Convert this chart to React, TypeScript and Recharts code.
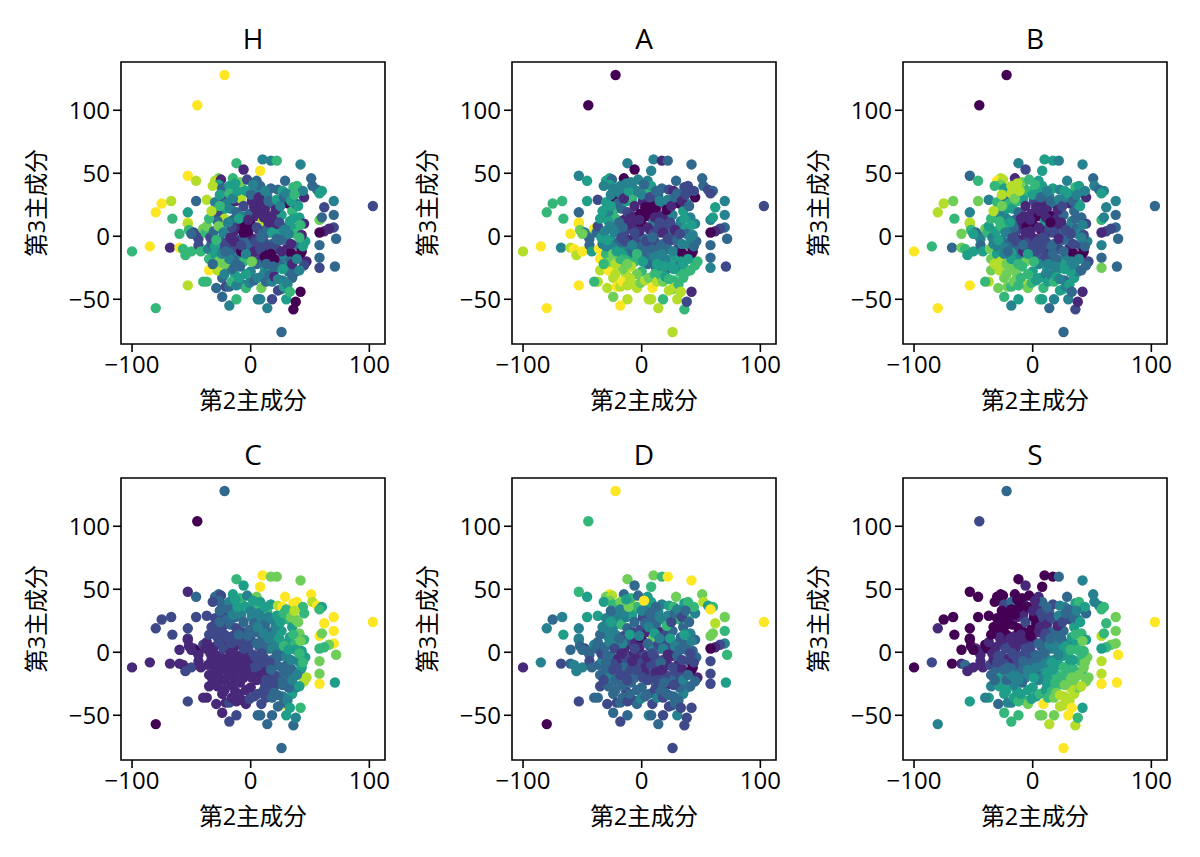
import { ScatterChart, Scatter, XAxis, YAxis, ReferenceArea } from "recharts";

// second and third principal component scores, one row per 20 points
const xs = [
  -100, -85, -80, -80, -75, -67, -66, -68, -60, -57, -55, -50, -53, -53, -46, -45, -22, 103, 26, -53,
  72, 70, 66, 62, 58, 70, 70, 62, 58, 60, 58, 58, 58, 71, 51, 52, 56, 60, 58, 45,
  10, 17, 22, 42, -12, -15, -6, 8, 5, -27, -30, -25, -27, -32, -46, -37, -24, -22, -18, -8,
  -37, -29, -24, -18, -12, 6, 8, 18, 14, 30, 36, 38, 42, 26, 35, -40, -35, -24, -21, -18,
  -53, -53, -52, -48, -46, -44, -44, -42, -60, -50, -40, -38, -37, -36, -35, -33, -30, -28, -27, -26,
  -25, -24, -28, -30, -26, -22, -20, -18, -17, -15, -14, -13, -12, -10, -9, -8, -7, -6, -5, -4,
  -3, -2, -1, 0, 1, 2, 3, 4, 5, 6, 7, 8, 9, 10, 11, 12, 13, 14, 15, 16,
  17, 18, 19, 20, 21, 22, 23, 24, 25, 26, 27, 28, 29, 30, 31, 32, 33, 34, 35, 36,
  37, 38, 39, 40, 41, 42, 43, 45, 46, 44, 47, 45, 33, 38, 32, 29, 24, 20, 15, 12,
  8, 5, 2, 0, -2, -4, -6, -9, -11, -13, -15, -16, -18, -20, -22, -24, -7, -4, -1, 3,
  6, 9, 11, 13, 16, 18, 20, 23, 27, 28, 31, 33, 35, 41, -16, -12, -10, -14, -8, -5,
  -2, 0, 3, 5, 8, 10, 12, 14, 16, 18, 20, 22, 24, 26, 28, 30, 32, 34, 36, 38,
  -20, -18, -16, -14, -12, -10, -8, -6, -4, -2, 1, 4, 6, 9, 11, 13, 15, 17, 19, 21,
  -32, -30, -28, -26, -24, -22, -34, -31, -29, -27, -35, -33, -23, -21, -19, -17, -15, -11, -9, -13,
  -3, 0, 2, 7, 12, 15, 22, 25, 28, 30, 34, 37, 40, 42, 43, 44, 41, 39, 27, 23,
];
const ys = [
  -12, -8, -57, 19, 26, 28, 14, -9, -9, -10, -15, -12, -39, 48, 44, 104, 128, 24, -76, 11,
  -2, 7, 6, 4, 3, 17, 28, 23, 13, 15, -7, -17, -25, -24, 46, 40, 37, 36, 34, 31,
  61, 60, 60, 57, 58, 46, 53, 52, 44, 46, 44, 45, 41, 40, 28, 29, 38, 30, 40, 39,
  -36, -41, -48, -55, -50, -50, -50, -50, -57, -50, -58, -52, -44, -42, -33, -36, -27, -33, -40, -40,
  19, 10, 5, 3, 1, -2, -7, -12, 2, 2, 6, 3, 8, -10, -18, -6, -14, -27, -20, -3,
  10, 20, 18, 27, 33, 14, 26, 34, 22, 13, 4, 28, 19, -3, 9, 30, 16, 24, 8, 36,
  2, -10, 18, 10, 28, -2, 23, 35, 16, -7, 5, 40, 27, 12, -4, 22, -12, 32, 3, 16,
  38, -6, 26, 14, 9, -10, 37, 2, -3, 17, 36, -16, 44, 7, -9, 26, 12, -13, 20, 39,
  6, 2, 40, -7, 15, -14, -12, 10, -4, 36, -20, -23, -20, -28, -28, -24, -22, -27, -20, -25,
  -18, -22, -15, -28, -18, -30, -20, -24, -14, -31, -9, -26, -13, -5, -22, -9, -38, -41, -37, -35,
  -33, -41, -30, -36, -31, -36, -32, -43, -35, -40, -38, -44, -22, -27, -36, -39, -33, -19, -12, -5,
  4, -8, -12, 7, -10, 2, -16, 6, -8, 3, -18, -2, 11, -12, 5, -3, 2, -6, 14, 26,
  4, -18, 7, -4, -22, 14, -7, 3, -14, 13, -20, -4, 20, -1, 15, -22, 11, -14, -24, 21,
  -22, -8, 12, 24, -14, -30, -1, 4, -3, 8, 14, 20, 3, -12, 11, -1, 30, 36, 43, 42,
  45, 33, 41, 31, 36, 28, 29, 24, 31, 34, 28, 33, 24, 9, 1, -8, -1, -18, -26, -34,
];

// colour value of each point on a 0-9 scale, one list per panel
const hValues = [
  6, 9, 6, 9, 9, 8, 6, 1, 9, 6, 6, 6, 8, 9, 8, 9, 9, 2, 3, 9,
  3, 2, 1, 1, 0, 3, 4, 2, 7, 3, 3, 3, 2, 3, 3, 3, 3, 5, 5, 1,
  4, 4, 6, 4, 6, 6, 1, 9, 3, 7, 8, 1, 5, 8, 3, 8, 3, 2, 5, 6,
  6, 3, 3, 4, 6, 4, 4, 2, 4, 5, 0, 0, 0, 4, 3, 6, 9, 3, 2, 3,
  5, 8, 6, 2, 2, 2, 2, 6, 6, 3, 7, 6, 7, 4, 6, 3, 5, 8, 7, 3,
  3, 5, 2, 4, 5, 8, 4, 6, 4, 3, 1, 1, 3, 2, 1, 8, 4, 2, 0, 5,
  1, 2, 3, 0, 1, 1, 1, 4, 1, 2, 1, 3, 1, 8, 2, 1, 0, 4, 2, 1,
  3, 3, 3, 1, 1, 2, 3, 5, 3, 5, 5, 4, 3, 3, 1, 0, 5, 0, 6, 6,
  5, 6, 6, 3, 5, 0, 0, 1, 5, 4, 1, 2, 3, 3, 3, 4, 3, 4, 2, 5,
  1, 3, 2, 4, 1, 5, 6, 3, 4, 5, 2, 3, 3, 2, 7, 2, 4, 6, 4, 3,
  4, 7, 4, 3, 3, 4, 1, 2, 4, 5, 4, 6, 1, 4, 6, 4, 5, 3, 0, 3,
  0, 3, 1, 2, 2, 3, 0, 3, 2, 5, 0, 3, 2, 1, 4, 3, 4, 1, 5, 3,
  6, 4, 2, 1, 3, 5, 2, 0, 4, 1, 7, 2, 1, 3, 1, 3, 1, 0, 3, 1,
  3, 5, 3, 6, 4, 4, 2, 3, 6, 7, 6, 8, 4, 3, 4, 1, 4, 5, 7, 5,
  2, 3, 4, 1, 4, 3, 5, 4, 3, 4, 5, 6, 5, 6, 1, 5, 6, 4, 5, 4,
];
const aValues = [
  8, 9, 9, 6, 6, 6, 6, 4, 8, 9, 8, 9, 9, 4, 5, 0, 0, 2, 8, 9,
  3, 3, 2, 1, 0, 4, 4, 5, 4, 5, 3, 3, 4, 2, 3, 3, 2, 3, 2, 0,
  4, 1, 3, 3, 4, 0, 0, 4, 4, 5, 5, 3, 5, 4, 5, 2, 4, 0, 4, 4,
  8, 8, 7, 9, 8, 8, 8, 6, 8, 8, 6, 2, 1, 7, 6, 6, 8, 8, 9, 8,
  3, 9, 7, 4, 4, 3, 3, 5, 9, 7, 9, 3, 2, 9, 9, 4, 6, 9, 7, 5,
  5, 6, 4, 5, 4, 6, 3, 4, 3, 1, 2, 5, 2, 1, 1, 6, 1, 1, 1, 4,
  2, 3, 0, 0, 1, 3, 0, 6, 0, 2, 1, 5, 0, 4, 2, 0, 3, 3, 2, 1,
  3, 3, 3, 1, 2, 3, 2, 3, 2, 4, 1, 5, 3, 3, 2, 0, 4, 0, 5, 2,
  5, 3, 2, 4, 4, 0, 0, 4, 3, 2, 6, 6, 5, 6, 6, 4, 5, 3, 5, 4,
  4, 3, 3, 6, 4, 7, 6, 8, 5, 8, 4, 7, 5, 3, 8, 4, 8, 8, 7, 8,
  7, 9, 6, 8, 6, 7, 5, 8, 6, 8, 6, 8, 5, 6, 9, 8, 8, 6, 3, 2,
  1, 3, 3, 1, 3, 2, 4, 2, 3, 1, 4, 2, 2, 4, 1, 3, 2, 4, 5, 4,
  4, 6, 3, 2, 7, 1, 4, 2, 6, 1, 5, 2, 0, 3, 1, 5, 2, 4, 5, 0,
  6, 4, 5, 5, 7, 8, 5, 4, 5, 4, 5, 5, 4, 5, 3, 2, 1, 5, 4, 4,
  4, 4, 3, 2, 3, 4, 4, 1, 3, 3, 1, 2, 3, 5, 4, 3, 4, 5, 5, 6,
];
const bValues = [
  9, 6, 9, 8, 8, 7, 6, 3, 7, 6, 5, 5, 9, 3, 6, 0, 0, 3, 3, 8,
  3, 3, 2, 2, 1, 3, 4, 4, 6, 4, 4, 3, 7, 3, 3, 4, 3, 4, 5, 1,
  5, 5, 4, 4, 4, 1, 2, 5, 5, 8, 9, 8, 7, 6, 7, 4, 5, 3, 8, 5,
  8, 7, 6, 4, 5, 6, 5, 4, 3, 4, 2, 1, 1, 6, 5, 6, 7, 7, 7, 6,
  4, 8, 6, 3, 3, 4, 3, 5, 7, 5, 7, 6, 5, 7, 7, 4, 5, 8, 8, 4,
  6, 5, 4, 6, 8, 4, 6, 8, 5, 3, 2, 6, 3, 1, 1, 5, 1, 1, 0, 6,
  1, 3, 1, 0, 2, 1, 1, 5, 0, 2, 0, 5, 1, 5, 2, 1, 1, 4, 3, 0,
  5, 3, 4, 1, 1, 2, 4, 3, 3, 3, 5, 4, 4, 4, 1, 1, 4, 0, 3, 6,
  3, 4, 5, 2, 3, 0, 0, 2, 4, 4, 2, 3, 4, 4, 5, 4, 5, 4, 4, 5,
  2, 4, 3, 5, 2, 6, 7, 6, 4, 7, 3, 7, 5, 3, 7, 4, 8, 7, 6, 5,
  5, 6, 4, 5, 4, 6, 5, 5, 3, 4, 5, 3, 4, 3, 7, 6, 6, 4, 1, 2,
  1, 2, 2, 1, 2, 1, 2, 2, 3, 2, 3, 1, 1, 3, 2, 3, 2, 2, 3, 5,
  5, 5, 3, 2, 6, 1, 3, 1, 5, 1, 6, 2, 1, 2, 1, 4, 0, 3, 4, 1,
  8, 4, 6, 7, 4, 7, 4, 5, 5, 6, 6, 8, 4, 3, 5, 2, 7, 8, 7, 8,
  6, 5, 6, 3, 4, 3, 4, 2, 4, 5, 3, 4, 5, 4, 2, 3, 4, 4, 5, 4,
];
const cValues = [
  1, 1, 0, 2, 2, 2, 2, 1, 1, 1, 2, 2, 2, 1, 3, 0, 3, 9, 3, 2,
  7, 9, 7, 6, 6, 9, 9, 9, 9, 7, 7, 7, 9, 5, 9, 8, 9, 5, 6, 6,
  9, 7, 7, 7, 6, 5, 5, 9, 7, 3, 3, 2, 3, 2, 2, 2, 3, 2, 4, 5,
  1, 1, 1, 2, 2, 3, 3, 3, 3, 5, 3, 4, 6, 9, 5, 1, 1, 1, 1, 2,
  2, 1, 1, 1, 0, 1, 1, 1, 1, 1, 2, 1, 1, 1, 1, 1, 1, 1, 1, 1,
  1, 2, 2, 2, 3, 2, 3, 3, 3, 2, 1, 3, 2, 1, 2, 4, 2, 3, 2, 5,
  1, 1, 3, 2, 4, 2, 3, 6, 3, 1, 2, 5, 4, 3, 2, 3, 2, 6, 3, 3,
  5, 3, 4, 4, 4, 3, 8, 4, 3, 5, 9, 3, 9, 5, 3, 6, 5, 3, 5, 9,
  6, 5, 9, 4, 7, 4, 5, 6, 5, 6, 8, 8, 3, 4, 3, 3, 3, 2, 2, 2,
  1, 1, 1, 1, 1, 1, 1, 1, 1, 1, 1, 1, 1, 1, 1, 1, 1, 1, 2, 2,
  2, 2, 2, 2, 2, 3, 3, 3, 4, 3, 4, 5, 4, 5, 1, 1, 1, 1, 1, 1,
  2, 1, 2, 3, 2, 3, 1, 3, 2, 4, 2, 3, 5, 3, 6, 4, 5, 4, 6, 7,
  1, 1, 2, 1, 1, 3, 1, 2, 1, 3, 1, 2, 4, 2, 4, 2, 4, 3, 2, 4,
  1, 1, 2, 3, 1, 1, 1, 1, 1, 2, 2, 2, 2, 1, 2, 1, 4, 5, 6, 5,
  4, 4, 5, 4, 5, 4, 5, 5, 6, 6, 7, 8, 7, 7, 5, 6, 6, 4, 3, 3,
];
const dValues = [
  1, 4, 0, 4, 3, 4, 5, 2, 3, 4, 4, 4, 2, 6, 5, 6, 9, 9, 2, 4,
  6, 4, 2, 1, 0, 6, 7, 8, 7, 7, 2, 2, 2, 5, 7, 8, 5, 6, 9, 4,
  7, 6, 9, 9, 7, 3, 3, 6, 5, 9, 7, 8, 7, 5, 5, 5, 6, 4, 7, 9,
  3, 2, 3, 2, 3, 4, 3, 2, 3, 4, 2, 2, 2, 3, 4, 3, 2, 3, 2, 3,
  4, 4, 3, 2, 3, 3, 2, 3, 3, 3, 4, 3, 3, 3, 3, 4, 3, 3, 4, 4,
  5, 4, 4, 4, 3, 4, 4, 4, 6, 2, 1, 4, 3, 1, 2, 5, 2, 3, 1, 6,
  1, 1, 2, 0, 2, 2, 3, 4, 1, 1, 2, 5, 3, 7, 2, 3, 2, 4, 2, 1,
  4, 2, 4, 2, 2, 1, 5, 2, 1, 3, 6, 2, 7, 3, 1, 6, 3, 1, 3, 5,
  3, 3, 6, 2, 4, 0, 0, 3, 3, 6, 1, 3, 2, 4, 3, 2, 3, 1, 2, 3,
  2, 2, 1, 3, 2, 3, 3, 3, 2, 2, 3, 3, 3, 1, 3, 2, 2, 3, 4, 3,
  3, 2, 2, 4, 3, 2, 3, 2, 3, 3, 3, 2, 4, 3, 3, 2, 3, 2, 2, 1,
  1, 2, 1, 3, 2, 4, 1, 2, 3, 4, 2, 1, 5, 2, 4, 3, 3, 2, 5, 6,
  4, 2, 4, 2, 2, 5, 1, 2, 2, 4, 2, 1, 4, 2, 5, 2, 4, 1, 3, 6,
  2, 3, 4, 5, 2, 3, 2, 3, 3, 4, 3, 4, 2, 2, 3, 1, 4, 7, 6, 5,
  3, 4, 9, 3, 3, 4, 4, 2, 3, 4, 2, 3, 3, 4, 3, 2, 2, 3, 2, 3,
];
const sValues = [
  0, 2, 4, 1, 0, 0, 0, 0, 1, 3, 1, 1, 5, 0, 0, 2, 3, 9, 9, 0,
  9, 7, 7, 6, 5, 7, 7, 6, 8, 6, 8, 8, 9, 9, 4, 4, 4, 6, 6, 3,
  0, 0, 3, 4, 0, 0, 1, 0, 1, 0, 0, 0, 0, 0, 0, 0, 2, 0, 3, 2,
  5, 3, 6, 6, 6, 7, 7, 7, 8, 9, 8, 6, 5, 8, 8, 4, 4, 5, 4, 4,
  0, 0, 0, 1, 1, 1, 1, 1, 0, 0, 0, 0, 1, 2, 3, 1, 3, 5, 5, 2,
  1, 0, 0, 0, 0, 0, 0, 0, 0, 1, 1, 1, 0, 2, 1, 1, 0, 2, 1, 0,
  2, 3, 0, 1, 0, 3, 0, 1, 1, 4, 2, 3, 2, 2, 4, 1, 4, 3, 3, 3,
  2, 4, 3, 3, 4, 5, 4, 5, 5, 3, 4, 6, 3, 4, 5, 2, 5, 6, 5, 5,
  5, 6, 6, 6, 6, 6, 7, 5, 7, 5, 7, 7, 7, 7, 8, 7, 6, 6, 5, 5,
  4, 4, 3, 5, 3, 5, 4, 3, 3, 5, 2, 4, 3, 1, 3, 2, 6, 7, 5, 5,
  6, 9, 5, 6, 6, 7, 7, 8, 8, 8, 8, 9, 7, 8, 5, 6, 5, 4, 3, 2,
  2, 3, 4, 3, 4, 3, 5, 4, 5, 4, 6, 4, 3, 6, 5, 5, 6, 5, 6, 4,
  2, 4, 1, 2, 4, 1, 3, 2, 4, 0, 5, 3, 1, 3, 2, 5, 3, 5, 6, 1,
  3, 2, 1, 0, 3, 5, 1, 1, 2, 1, 0, 0, 2, 3, 1, 2, 0, 0, 0, 0,
  0, 1, 1, 2, 3, 2, 4, 2, 3, 3, 3, 4, 5, 7, 6, 7, 6, 7, 7, 8,
];

const panels = [
  { title: "H", values: hValues },
  { title: "A", values: aValues },
  { title: "B", values: bValues },
  { title: "C", values: cValues },
  { title: "D", values: dValues },
  { title: "S", values: sValues },
];

const VIRIDIS = ["#440154", "#482878", "#3e4989", "#31688e", "#26828e", "#1f9e89", "#35b779", "#6ece58", "#b5de2b", "#fde725"];
const X_DOMAIN = [-109.3, 113.2];
const Y_DOMAIN = [-85.5, 138.3];
const FONT = '"Open Sans", "Noto Sans CJK JP", sans-serif';

const minusTick = (v: number) => String(v).replace("-", "\u2212");

// the chart's default symbol size ignores our radius, so draw the dot here
const Dot = (p: any) => <circle cx={p.cx} cy={p.cy} r={5.2} fill={VIRIDIS[p.payload.v]} />;

function Panel({ title, values, col, row }: { title: string; values: number[]; col: number; row: number }) {
  const data = xs.map((x, i) => ({ x, y: ys[i], v: values[i] }));
  return (
    <div style={{ position: "absolute", left: col * 391, top: row * 416, width: 391, height: 416 }}>
      <div style={{ position: "absolute", left: 121, top: 20, width: 264, textAlign: "center", fontFamily: FONT, fontSize: 28, lineHeight: "36px", color: "#000" }}>
        {title}
      </div>
      <ScatterChart width={391} height={416} margin={{ top: 62, right: 6, bottom: 12, left: 0 }} style={{ fontFamily: FONT }}>
        <XAxis
          type="number"
          dataKey="x"
          domain={X_DOMAIN}
          ticks={[-100, 0, 100]}
          tickFormatter={minusTick}
          allowDataOverflow
          axisLine={false}
          tickSize={8}
          tickMargin={4}
          height={60}
          tick={{ fill: "#000", fontSize: 24 }}
          tickLine={{ stroke: "#000", strokeWidth: 1.6 }}
          label={{ value: "第2主成分", position: "insideBottom", offset: -5, fill: "#000", fontSize: 23.5 }}
          interval={0}
        />
        <YAxis
          type="number"
          dataKey="y"
          domain={Y_DOMAIN}
          ticks={[-50, 0, 50, 100]}
          tickFormatter={minusTick}
          allowDataOverflow
          axisLine={false}
          tickSize={8}
          tickMargin={3}
          width={121}
          tick={{ fill: "#000", fontSize: 24 }}
          tickLine={{ stroke: "#000", strokeWidth: 1.6 }}
          label={{ value: "第3主成分", angle: -90, position: "insideLeft", offset: 37, fill: "#000", fontSize: 23.5, style: { textAnchor: "middle" } }}
          interval={0}
        />
        <Scatter data={data} isAnimationActive={false} shape={Dot} />
        <ReferenceArea x1={X_DOMAIN[0]} x2={X_DOMAIN[1]} y1={Y_DOMAIN[0]} y2={Y_DOMAIN[1]} fill="none" stroke="#000" strokeWidth={1.6} />
      </ScatterChart>
    </div>
  );
}

export default function App() {
  return (
    <div style={{ position: "absolute", left: 0, top: 0, width: 1200, height: 857, background: "#fff" }}>
      {panels.map((p, i) => (
        <Panel key={p.title} title={p.title} values={p.values} col={i % 3} row={Math.floor(i / 3)} />
      ))}
    </div>
  );
}
